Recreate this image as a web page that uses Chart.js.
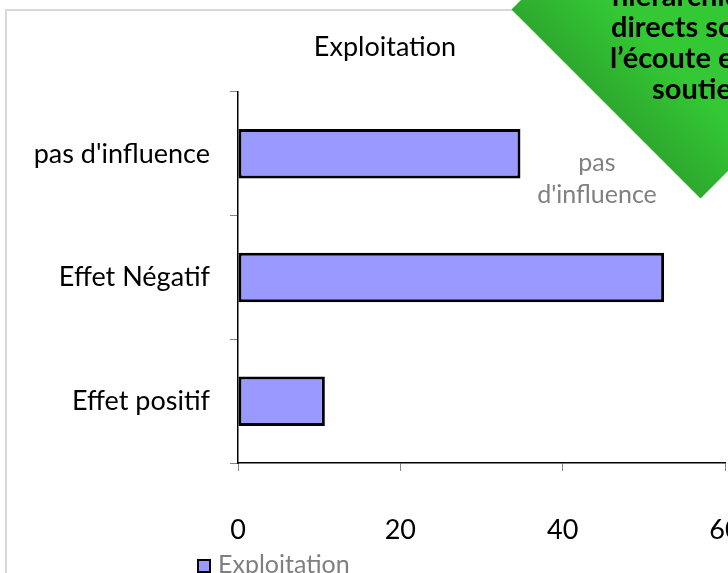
<!DOCTYPE html>
<html>
<head>
<meta charset="utf-8">
<script src="https://cdn.jsdelivr.net/npm/chart.js@4.4.1/dist/chart.umd.min.js"></script>
<style>
  html, body { margin:0; padding:0; width:728px; height:573px; overflow:hidden; background:#fff; font-family:Lato, "Open Sans", sans-serif; }
  #frame { position:absolute; left:5px; top:9px; width:900px; height:700px; border:2px solid #d9d9d9; box-sizing:border-box; }
  #c { position:absolute; left:0; top:0; }
  #banner { position:absolute; left:0; top:0; width:728px; height:573px; pointer-events:none; }
  .line { position:absolute; white-space:nowrap; font-weight:bold; font-size:29px; line-height:31px; color:#000; }
  .note { position:absolute; left:517px; top:145px; width:160px; text-align:center; font-size:25px; line-height:32px; color:#808080; }
  #legend { position:absolute; left:197px; top:549px; font-size:25px; line-height:28px; color:#7f7f7f; white-space:nowrap; }
  #legend span.box { display:inline-block; width:10px; height:10px; border:2px solid #000; background:#9999ff; margin-right:7px; vertical-align:0px; }
</style>
</head>
<body>
<div id="frame"></div>
<canvas id="c" width="770" height="573"></canvas>

<svg id="banner" width="728" height="573">
  <defs>
    <linearGradient id="g" x1="560" y1="110" x2="640" y2="30" gradientUnits="userSpaceOnUse">
      <stop offset="0" stop-color="#2a9a2a"/>
      <stop offset="1" stop-color="#34c934"/>
    </linearGradient>
  </defs>
  <polygon points="521,0 511.5,9.5 700.5,198.5 729,170 729,0" fill="url(#g)"/>
</svg>
<div class="line" style="left:612px; top:-21px;">hiérarchiques</div>
<div class="line" style="left:611px; top:10px;">directs sont à</div>
<div class="line" style="left:610px; top:41px;">l’écoute et</div>
<div class="line" style="left:652px; top:72px;">soutiennent</div>

<div class="note">pas<br>d'influence</div>
<div id="legend"><span class="box"></span>Exploitation</div>

<script>
// data
const categories = ["pas d'influence", "Effet Négatif", "Effet positif"];
const exploitation = [34.8, 52.5, 10.7];
const xTicks = [0, 20, 40, 60];
const seriesName = "Exploitation";

const FONT = "Lato, 'Open Sans', sans-serif";

new Chart(document.getElementById('c'), {
  type: 'bar',
  data: {
    labels: categories,
    datasets: [{
      label: seriesName,
      data: exploitation,
      backgroundColor: '#9999ff',
      borderColor: '#000',
      borderWidth: 3,
      borderSkipped: false,
      barPercentage: 0.5,
      categoryPercentage: 0.8
    }]
  },
  options: {
    indexAxis: 'y',
    responsive: false,
    animation: false,
    layout: { padding: { left: 0, right: 0, top: 0, bottom: 28 } },
    plugins: {
      legend: { display: false },
      tooltip: { enabled: false },
      title: {
        display: true,
        text: seriesName,
        color: '#000',
        font: { family: FONT, size: 27, weight: 'normal' },
        padding: { top: 31, bottom: 28.6 }
      }
    },
    scales: {
      x: {
        min: xTicks[0],
        max: xTicks[xTicks.length - 1],
        afterBuildTicks: axis => { axis.ticks = xTicks.map(v => ({ value: v })); },
        afterFit: axis => {
          axis.height = 82;
          axis.paddingLeft = 0;
          axis.paddingRight = 45; // chart runs past the right edge, as in the picture
        },
        grid: { drawOnChartArea: false, color: '#868686', tickLength: 8 },
        border: { color: '#000', width: 1.5 },
        ticks: { color: '#000', padding: 43, font: { family: FONT, size: 27 } }
      },
      y: {
        afterFit: axis => { axis.width = 238; },
        grid: { drawOnChartArea: false, color: '#868686', tickLength: 8 },
        border: { color: '#000', width: 1.5 },
        ticks: { color: '#000', padding: 20, font: { family: FONT, size: 27 } }
      }
    }
  }
});
</script>
</body>
</html>
